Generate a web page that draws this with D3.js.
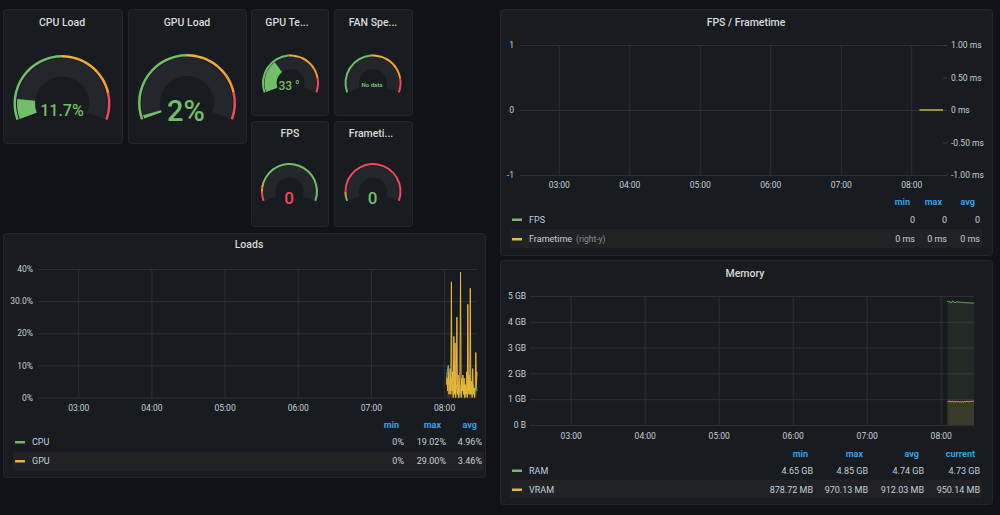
<!DOCTYPE html>
<html>
<head>
<meta charset="utf-8">
<script src="https://cdn.jsdelivr.net/npm/d3@7"></script>
<style>
body { margin: 0; background: #111217; }
svg { display: block; font-family: Roboto, 'Open Sans', sans-serif; }
</style>
</head>
<body>
<svg class="dash"></svg>
<script>
// ---- data ----
var hourTicks = ['03:00', '04:00', '05:00', '06:00', '07:00', '08:00'];
var rangeStart = '02:27:00', rangeEnd = '08:27:00';

var gaugeTitles = ['CPU Load', 'GPU Load', 'GPU Te...', 'FAN Spe...', 'FPS', 'Frameti...'];
var gaugeValues = [11.7, 2, 33, null, 0, 0];
var gaugeTexts = ['11.7%', '2%', '33 °', 'No data', '0', '0'];
var gaugeMax = [100, 100, 100, 100, 100, 100];
// threshold steps (on 0..max) and their colours, low to high
var gaugeSteps = [[50, 85], [50, 85], [48, 86], [48, 86], [8, 18], [4, 9]];
var gaugeStepColors = [
  ['g', 'o', 'r'], ['g', 'o', 'r'], ['g', 'o', 'r'], ['g', 'o', 'r'],
  ['r', 'o', 'g'], ['g', 'o', 'r']
];
var gaugeValueColors = ['g', 'g', 'g', 'g', 'r', 'g'];

// Loads, sampled every 30 s from 08:02:00
var loadStart = '08:02:00', loadStep = 30;
var cpuLoad = [5, 8, 9, 10, 6, 4, 3, 2, 6, 3, 4, 1, 3, 2, 6, 1, 3, 4, 1, 3,
  0, 2, 4, 2, 1, 3, 2, 3, 1, 4, 0, 2, 3, 1, 2, 5, 1, 3, 2, 6,
  1, 3, 2, 4, 1, 3, 2, 3, 3, 4, 2];
var gpuLoad = [4, 6, 2, 8, 1, 3, 9, 1, 36, 2, 8, 0, 19, 1, 17, 0, 5, 25, 1, 7,
  0, 3, 8, 39, 0, 6, 2, 7, 1, 6, 0, 4, 1, 8, 0, 29, 2, 7, 1, 34,
  1, 5, 0, 9, 1, 3, 0, 2, 14, 4, 8];
var loadNames = ['CPU', 'GPU'];
var loadMin = ['0%', '0%'];
var loadMax = ['19.02%', '29.00%'];
var loadAvg = ['4.96%', '3.46%'];
var loadTicks = [0, 10, 20, 30, 40];
var loadTickLabels = ['0%', '10%', '20%', '30.0%', '40%'];

// FPS / Frametime, every 150 s from 08:07:00
var frameStart = '08:07:00', frameStep = 150;
var fps = [0, 0, 0, 0, 0, 0, 0, 0, 0];
var frametime = [0, 0, 0, 0, 0, 0, 0, 0, 0];
var fpsNames = ['FPS', 'Frametime'];
var fpsMin = ['0', '0 ms'];
var fpsMax = ['0', '0 ms'];
var fpsAvg = ['0', '0 ms'];
var fpsTicks = [-1, 0, 1];
var fpsTickLabels = ['-1', '0', '1'];
var msTicks = [-1, -0.5, 0, 0.5, 1];
var msTickLabels = ['-1.00 ms', '-0.50 ms', '0 ms', '0.50 ms', '1.00 ms'];

// Memory (GB), every 30 s from 08:05:30
var memStart = '08:05:30', memStep = 30;
var ram = [4.79, 4.78, 4.77, 4.80, 4.76, 4.74, 4.77, 4.75, 4.79, 4.81, 4.78, 4.74, 4.76, 4.75, 4.77,
  4.78, 4.77, 4.76, 4.76, 4.77, 4.76, 4.76, 4.75, 4.75, 4.76, 4.75, 4.75, 4.74, 4.74, 4.75,
  4.74, 4.74, 4.74, 4.73, 4.74, 4.73, 4.73, 4.73, 4.73, 4.73, 4.72, 4.73, 4.73, 4.73];
var vram = [0.90, 0.92, 0.91, 0.93, 0.90, 0.92, 0.89, 0.91, 0.93, 0.90, 0.88, 0.91, 0.92, 0.90, 0.89,
  0.91, 0.90, 0.92, 0.91, 0.89, 0.90, 0.91, 0.90, 0.88, 0.90, 0.91, 0.89, 0.90, 0.92, 0.91,
  0.90, 0.91, 0.92, 0.91, 0.90, 0.91, 0.92, 0.91, 0.92, 0.92, 0.91, 0.92, 0.93, 0.93];
var memNames = ['RAM', 'VRAM'];
var memMin = ['4.65 GB', '878.72 MB'];
var memMax = ['4.85 GB', '970.13 MB'];
var memAvg = ['4.74 GB', '912.03 MB'];
var memCur = ['4.73 GB', '950.14 MB'];
var memTicks = [0, 1, 2, 3, 4, 5];
var memTickLabels = ['0 B', '1 GB', '2 GB', '3 GB', '4 GB', '5 GB'];

// ---- style ----
var colors = { g: '#73bf69', o: '#eab839', o2: '#ff9830', r: '#f2495c' };
var seriesColors = ['#7eb26d', '#eab839'];
var panelBg = '#181b1f', panelLine = '#24262b', gridColor = '#2e3035';
var titleColor = '#d8d9da', axisText = '#c7d0d9', headColor = '#33a2e5';

var W = 1000, H = 515;
var svg = d3.select('svg.dash').attr('width', W).attr('height', H);
svg.append('rect').attr('width', W).attr('height', H).attr('fill', '#111217');

var tParse = d3.timeParse('%H:%M:%S');
var timeDomain = [tParse(rangeStart), tParse(rangeEnd)];
function sampleTimes(start, step, n) {
  var t0 = tParse(start);
  return d3.range(n).map(function(i) { return d3.timeSecond.offset(t0, i * step); });
}

var panels = [
  {x: 3, y: 9, w: 119, h: 134, tx: 62},
  {x: 128, y: 9, w: 118, h: 134, tx: 187},
  {x: 251, y: 9, w: 77, h: 106, tx: 287},
  {x: 334, y: 9, w: 78, h: 106, tx: 373},
  {x: 251, y: 121, w: 77, h: 105, tx: 290},
  {x: 334, y: 121, w: 78, h: 105, tx: 371},
  {x: 3, y: 233, w: 482, h: 244},
  {x: 500, y: 9, w: 492, h: 246},
  {x: 500, y: 260, w: 492, h: 244}
];
panels.forEach(function(p) {
  svg.append('rect')
    .attr('x', p.x + 0.5).attr('y', p.y + 0.5)
    .attr('width', p.w).attr('height', p.h)
    .attr('rx', 3)
    .attr('fill', panelBg)
    .attr('stroke', panelLine);
});

function title(x, y, txt) {
  svg.append('text')
    .attr('x', x).attr('y', y)
    .attr('text-anchor', 'middle')
    .attr('fill', titleColor)
    .attr('font-size', 10.5)
    .attr('font-weight', 500)
    .text(txt);
}

// ---- gauges ----
var gaugeGeo = [
  {cx: 62, cy: 103.5, R: 48.5, ring: 2.5, tOut: 45, tIn: 27, fs: 16, by: 116, vx: 62},
  {cx: 187, cy: 103, R: 49, ring: 2.5, tOut: 45.5, tIn: 27, fs: 29, by: 120.5, vx: 186},
  {cx: 290.5, cy: 83, R: 28.5, ring: 2, tOut: 26, tIn: 14, fs: 12, by: 90, vx: 289},
  {cx: 373, cy: 83, R: 28.5, ring: 2, tOut: 26, tIn: 14, fs: 6, by: 86.5, vx: 372},
  {cx: 289.5, cy: 191.5, R: 28.5, ring: 2, tOut: 26, tIn: 14, fs: 17, by: 204, vx: 289},
  {cx: 373, cy: 191.5, R: 28.5, ring: 2, tOut: 26, tIn: 14, fs: 17, by: 204, vx: 372.5}
];
var titleY = [26, 26, 26, 26, 137, 137];
var arc = d3.arc();
var ang = d3.scaleLinear().domain([0, 1]).range([-110 * Math.PI / 180, 110 * Math.PI / 180]);

gaugeTitles.forEach(function(t, i) {
  var geo = gaugeGeo[i];
  title(panels[i].tx, titleY[i], t);
  var g = svg.append('g').attr('transform', 'translate(' + geo.cx + ',' + geo.cy + ')');
  var frac = d3.scaleLinear().domain([0, gaugeMax[i]]).range([0, 1]).clamp(true);
  // track
  g.append('path')
    .attr('d', arc({innerRadius: geo.tIn, outerRadius: geo.tOut, startAngle: ang(0), endAngle: ang(1)}))
    .attr('fill', '#23262b');
  // threshold ring
  var bounds = [0].concat(gaugeSteps[i]).concat([gaugeMax[i]]);
  for (var k = 0; k < 3; k++) {
    var f0 = frac(bounds[k]), f1 = frac(bounds[k + 1]);
    var key = gaugeStepColors[i][k];
    if (key === 'o') {
      var n = 8;
      for (var s = 0; s < n; s++) {
        var a0 = f0 + (f1 - f0) * s / n, a1 = f0 + (f1 - f0) * (s + 1) / n;
        var col = gaugeStepColors[i][2] === 'r'
          ? d3.interpolateRgb(colors.o, colors.o2)(s / (n - 1))
          : d3.interpolateRgb(colors.o2, colors.o)(s / (n - 1));
        g.append('path')
          .attr('d', arc({innerRadius: geo.R - geo.ring, outerRadius: geo.R,
            startAngle: ang(a0), endAngle: ang(a1) + 0.005}))
          .attr('fill', col);
      }
    } else {
      g.append('path')
        .attr('d', arc({innerRadius: geo.R - geo.ring, outerRadius: geo.R, startAngle: ang(f0), endAngle: ang(f1)}))
        .attr('fill', colors[key]);
    }
  }
  // value fill
  if (gaugeValues[i] !== null && gaugeValues[i] > 0) {
    g.append('path')
      .attr('d', arc({innerRadius: geo.tIn, outerRadius: geo.tOut,
        startAngle: ang(0), endAngle: ang(frac(gaugeValues[i]))}))
      .attr('fill', colors.g);
  }
  svg.append('text')
    .attr('x', geo.vx).attr('y', geo.by)
    .attr('text-anchor', 'middle')
    .attr('fill', colors[gaugeValueColors[i]])
    .attr('font-size', geo.fs)
    .attr('font-weight', gaugeValues[i] === null ? 700 : 500)
    .text(gaugeTexts[i]);
});

// ---- graph helpers ----
function graph(o) {
  var x = d3.scaleTime().domain(timeDomain).range([o.x0, o.x1]);
  var y = d3.scaleLinear().domain(o.yDomain).range([o.yBot, o.yTop]);
  var xa = svg.append('g').attr('transform', 'translate(0,' + o.yBot + ')')
    .call(d3.axisBottom(x)
      .tickValues(hourTicks.map(function(h) { return tParse(h + ':00'); }))
      .tickFormat(function(d, i) { return hourTicks[i]; })
      .tickSize(-(o.yBot - o.yTop)));
  xa.attr('font-family', null).attr('font-size', 8.5);
  xa.select('.domain').remove();
  xa.selectAll('line').attr('stroke', gridColor);
  xa.selectAll('text').attr('y', o.xLab).attr('dy', null).attr('fill', axisText);

  var ya = svg.append('g').attr('transform', 'translate(' + o.x0 + ',0)')
    .call(d3.axisLeft(y)
      .tickValues(o.yTicks)
      .tickFormat(function(d, i) { return o.yLabels[i]; })
      .tickSize(-(o.x1 - o.x0))
      .tickPadding(o.pad));
  ya.attr('font-family', null).attr('font-size', 8.5);
  ya.select('.domain').remove();
  ya.selectAll('line').attr('stroke', gridColor);
  ya.selectAll('text').attr('fill', axisText);
  return {x: x, y: y};
}

function series(sc, times, vals, color, fill) {
  var pts = times.map(function(t, i) { return [t, vals[i]]; });
  if (fill) {
    svg.append('path')
      .attr('d', d3.area()
        .x(function(d) { return sc.x(d[0]); })
        .y0(sc.y(0))
        .y1(function(d) { return sc.y(d[1]); })(pts))
      .attr('fill', color).attr('fill-opacity', fill);
  }
  svg.append('path')
    .attr('d', d3.line()
      .x(function(d) { return sc.x(d[0]); })
      .y(function(d) { return sc.y(d[1]); })(pts))
    .attr('fill', 'none').attr('stroke', color).attr('stroke-width', 1);
}

function legend(o) {
  svg.append('rect')
    .attr('x', o.bg[0]).attr('y', o.bg[1])
    .attr('width', o.bg[2] - o.bg[0]).attr('height', o.bg[3] - o.bg[1])
    .attr('fill', '#202226');
  o.heads.forEach(function(h, j) {
    svg.append('text')
      .attr('x', o.cols[j] - 5).attr('y', o.headY)
      .attr('text-anchor', 'end')
      .attr('fill', headColor).attr('font-size', 9).attr('font-weight', 700)
      .text(h);
  });
  o.names.forEach(function(nm, r) {
    svg.append('rect')
      .attr('x', o.swX).attr('y', o.rowY[r] - 4)
      .attr('width', 10).attr('height', 2.5)
      .attr('fill', seriesColors[r]);
    var t = svg.append('text')
      .attr('x', o.swX + 17).attr('y', o.rowY[r])
      .attr('fill', axisText).attr('font-size', 9)
      .text(nm);
    if (o.suffix && o.suffix[r]) {
      t.append('tspan').attr('dx', 4).attr('fill', '#8e8e8e').attr('font-size', 8.5).text(o.suffix[r]);
    }
    o.vals.forEach(function(col, j) {
      svg.append('text')
        .attr('x', o.cols[j]).attr('y', o.rowY[r])
        .attr('text-anchor', 'end')
        .attr('fill', axisText).attr('font-size', 9)
        .text(col[r]);
    });
  });
}

// ---- Loads ----
title(249, 248, 'Loads');
var ls = graph({x0: 38, x1: 477, yTop: 269, yBot: 397.5, yDomain: [0, 40],
  yTicks: loadTicks, yLabels: loadTickLabels, pad: 5, xLab: 13});
var loadT = sampleTimes(loadStart, loadStep, cpuLoad.length);
series(ls, loadT, cpuLoad, seriesColors[0], 0.08);
series(ls, loadT, gpuLoad, seriesColors[1], 0.08);
legend({heads: ['min', 'max', 'avg'], cols: [404, 446, 482], headY: 428,
  rowY: [445, 464], names: loadNames, vals: [loadMin, loadMax, loadAvg],
  swX: 15, bg: [13, 452, 484, 471]});

// ---- FPS / Frametime ----
title(746, 26, 'FPS / Frametime');
var fs = graph({x0: 520, x1: 943, yTop: 45, yBot: 175, yDomain: [-1, 1],
  yTicks: fpsTicks, yLabels: fpsTickLabels, pad: 6, xLab: 12.5});
var msY = d3.scaleLinear().domain([-1, 1]).range([175, 45]);
var ra = svg.append('g').attr('transform', 'translate(943,0)')
  .call(d3.axisRight(msY).tickValues(msTicks)
    .tickFormat(function(d, i) { return msTickLabels[i]; })
    .tickSize(4).tickPadding(4));
ra.attr('font-family', null).attr('font-size', 8.5);
ra.select('.domain').remove();
ra.selectAll('line').attr('stroke', '#3a3c41');
ra.selectAll('text').attr('fill', axisText);
var frameT = sampleTimes(frameStart, frameStep, fps.length);
series(fs, frameT, fps, seriesColors[0], 0);
series({x: fs.x, y: msY}, frameT, frametime, seriesColors[1], 0);
legend({heads: ['min', 'max', 'avg'], cols: [915, 947, 980], headY: 205,
  rowY: [222.5, 242], names: fpsNames, suffix: [null, '(right-y)'],
  vals: [fpsMin, fpsMax, fpsAvg], swX: 512, bg: [510, 229, 982, 248]});

// ---- Memory ----
title(745, 276.5, 'Memory');
var ms = graph({x0: 530, x1: 974, yTop: 296, yBot: 425, yDomain: [0, 5],
  yTicks: memTicks, yLabels: memTickLabels, pad: 4, xLab: 14});
var memT = sampleTimes(memStart, memStep, ram.length);
series(ms, memT, ram, seriesColors[0], 0.1);
series(ms, memT, vram, seriesColors[1], 0.12);
legend({heads: ['min', 'max', 'avg', 'current'], cols: [813, 868, 924, 980], headY: 456.5,
  rowY: [473.5, 492.5], names: memNames, vals: [memMin, memMax, memAvg, memCur],
  swX: 512, bg: [510, 480, 982, 498]});
</script>
</body>
</html>
